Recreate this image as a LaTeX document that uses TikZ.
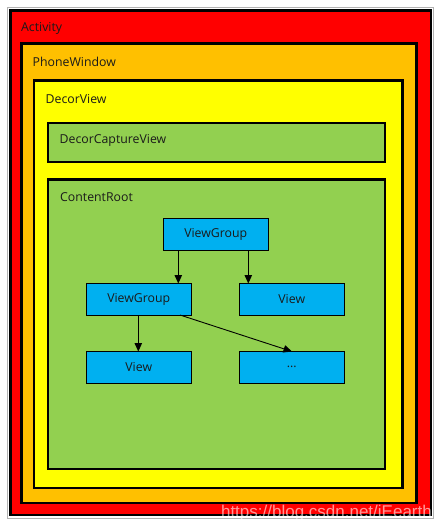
\documentclass[tikz,border=0pt]{standalone}
\usepackage{fontspec}
\setmainfont{Open Sans}
\newfontfamily\wmfont{Liberation Sans}
\usetikzlibrary{arrows.meta}
\definecolor{cRed}{HTML}{FF0000}
\definecolor{cOrange}{HTML}{FFC000}
\definecolor{cYellow}{HTML}{FFFF00}
\definecolor{cGreen}{HTML}{92D050}
\definecolor{cBlue}{HTML}{00B0F0}
\definecolor{cText}{HTML}{1A1A1A}
\tikzset{
  layer/.style={draw=black, line width=2.6pt, inner sep=0pt, outer sep=0pt, anchor=north west},
  lbl/.style={anchor=west, inner sep=0pt, font=\fontsize{12.3}{14}\selectfont, text=cText},
  vbox/.style={draw=black, line width=1pt, fill=cBlue, inner sep=0pt, outer sep=0pt,
    minimum width=104.5pt, minimum height=31.5pt, font=\fontsize{12.3}{14}\selectfont, text=cText},
  arr/.style={line width=0.9pt, -{Triangle[length=8.5pt,width=7.5pt]}}
}
\begin{document}
\begin{tikzpicture}[x=1pt,y=-1pt]
\useasboundingbox (0,0) rectangle (442,530);
\fill[white] (0,0) rectangle (442,530);
\draw[gray!60, line width=1pt] (7.5,7.5) rectangle (433,518);
\node[layer, fill=cRed, minimum width=420.5pt, minimum height=504.5pt] (activity) at (10.5,10.5) {};
\node[layer, fill=cOrange, minimum width=395.2pt, minimum height=459.5pt] (phonewindow) at (21.5,43.5) {};
\node[layer, fill=cYellow, minimum width=368.5pt, minimum height=407.3pt] (decorview) at (34,80.7) {};
\node[layer, fill=cGreen, minimum width=337pt, minimum height=39pt] (capture) at (48,123) {};
\node[layer, fill=cGreen, minimum width=337pt, minimum height=289.5pt] (contentroot) at (48,179.5) {};
\node[lbl] (tActivity) at (21,28) {Activity};
\node[lbl] (tPhone) at (32.5,61.5) {PhoneWindow};
\node[lbl] (tDecor) at (45.5,99.5) {DecorView};
\node[lbl] (tCapture) at (59.5,140) {DecorCaptureView};
\node[lbl] (tContent) at (60,197) {ContentRoot};
\node[vbox] (vg1) at (215.75,234.25) {ViewGroup};
\node[vbox] (vg2) at (138.75,299.25) {ViewGroup};
\node[vbox] (v1) at (291.75,299.25) {View};
\node[vbox] (v2) at (138.75,367.25) {View};
\node[vbox] (dots) at (291.75,367.25) {...};
\draw[arr] (vg1.south -| 178.3,0) -- (vg2.north -| 178.3,0);
\draw[arr] (vg1.south -| 248.3,0) -- (v1.north -| 248.3,0);
\draw[arr] (vg2.south -| 138.3,0) -- (v2.north -| 138.3,0);
\draw[arr] (vg2.south -| 180,0) -- (dots.north -| 292,0);
\node[anchor=base east, inner sep=0pt, font=\wmfont\fontsize{17}{19}\selectfont, text=white, opacity=0.6] (wm) at (432,517) {https://blog.csdn.net/iEearth};
\end{tikzpicture}
\end{document}
